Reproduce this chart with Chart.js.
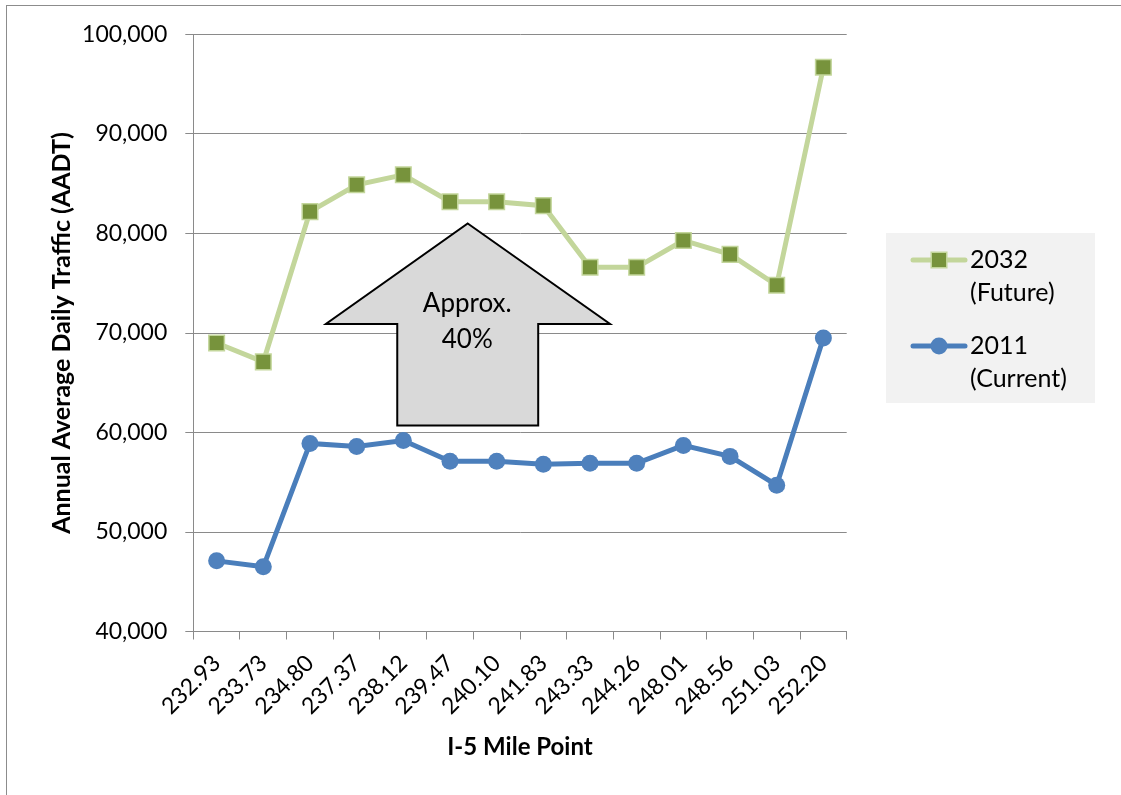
<!DOCTYPE html>
<html>
<head>
<meta charset="utf-8">
<title>I-5 Annual Average Daily Traffic</title>
<script src="https://cdn.jsdelivr.net/npm/chart.js@4.4.1/dist/chart.umd.min.js"></script>
<style>
  html, body { margin: 0; padding: 0; background: #ffffff; }
  #wrap { position: relative; width: 1121px; height: 795px; overflow: hidden; }
  #frame { position: absolute; left: 6px; top: 5px; right: -4px; bottom: -4px;
           border-left: 1.5px solid #8c8c8c; border-top: 1.5px solid #8c8c8c; }
  #c { position: absolute; left: 0; top: 0; }
</style>
</head>
<body>
<div id="wrap">
  <div id="frame"></div>
  <canvas id="c" width="1121" height="795"></canvas>
</div>
<script>
// Mile points along I-5 (x categories)
const milePoints = ['232.93', '233.73', '234.80', '237.37', '238.12', '239.47', '240.10',
                    '241.83', '243.33', '244.26', '248.01', '248.56', '251.03', '252.20'];

// Annual average daily traffic per mile point
const future2032 = [69000, 67100, 82200, 84900, 85900, 83200, 83200,
                    82800, 76600, 76600, 79300, 77900, 74800, 96700];
const current2011 = [47100, 46500, 58900, 58600, 59200, 57100, 57100,
                     56800, 56900, 56900, 58700, 57600, 54700, 69500];

// Value axis range and tick step
const yMin = 40000;
const yMax = 100000;
const yStep = 10000;

// Series labels (two lines each in the legend)
const seriesLabels = [['2032', '(Future)'], ['2011', '(Current)']];

// Callout arrow, in axis units (category index, traffic value)
const calloutText = ['Approx.', '40%'];
const calloutArrow = {
  tipX: 5.38, tipY: 81000,
  wingLeftX: 2.34, wingRightX: 8.43, wingY: 70900,
  shaftLeftX: 3.87, shaftRightX: 6.89, baseY: 60700,
  textX: 5.37, textY: [73000, 69300]
};

const FONT = 'Lato, "Open Sans", sans-serif';
const GRID = '#8a8a8a';

const greenStyle = {
  line: '#C3D69B', fill: '#77933C', pointStyle: 'rect', radius: 11, pointBorder: 1.5
};
const blueStyle = {
  line: '#4A7EBB', fill: '#4F81BD', pointStyle: 'circle', radius: 8.5, pointBorder: 0
};

const arrowPlugin = {
  id: 'calloutArrow',
  afterDatasetsDraw(chart) {
    const { ctx, scales: { x, y } } = chart;
    const a = calloutArrow;
    const px = v => x.getPixelForValue(v);
    const py = v => y.getPixelForValue(v);
    ctx.save();
    ctx.beginPath();
    ctx.moveTo(px(a.tipX), py(a.tipY));
    ctx.lineTo(px(a.wingRightX), py(a.wingY));
    ctx.lineTo(px(a.shaftRightX), py(a.wingY));
    ctx.lineTo(px(a.shaftRightX), py(a.baseY));
    ctx.lineTo(px(a.shaftLeftX), py(a.baseY));
    ctx.lineTo(px(a.shaftLeftX), py(a.wingY));
    ctx.lineTo(px(a.wingLeftX), py(a.wingY));
    ctx.closePath();
    ctx.fillStyle = '#D9D9D9';
    ctx.fill();
    ctx.lineWidth = 2;
    ctx.strokeStyle = '#000000';
    ctx.lineJoin = 'miter';
    ctx.stroke();
    ctx.fillStyle = '#000000';
    ctx.font = '26px ' + FONT;
    ctx.textAlign = 'center';
    ctx.textBaseline = 'middle';
    calloutText.forEach((t, i) => ctx.fillText(t, px(a.textX), py(a.textY[i])));
    ctx.restore();
  }
};

const legendPlugin = {
  id: 'sideLegend',
  afterDraw(chart) {
    const { ctx } = chart;
    const box = { x: 886, y: 233, w: 209, h: 170 };
    const rows = [260, 346];
    const styles = [greenStyle, blueStyle];
    ctx.save();
    ctx.fillStyle = '#F2F2F2';
    ctx.fillRect(box.x, box.y, box.w, box.h);
    styles.forEach((s, i) => {
      const cy = rows[i];
      ctx.beginPath();
      ctx.lineCap = 'round';
      ctx.lineWidth = 5;
      ctx.strokeStyle = s.line;
      ctx.moveTo(913, cy);
      ctx.lineTo(965, cy);
      ctx.stroke();
      ctx.fillStyle = s.fill;
      ctx.strokeStyle = s.pointStyle === 'rect' ? s.line : s.fill;
      ctx.lineWidth = s.pointBorder;
      Chart.helpers.drawPoint(ctx, {
        pointStyle: s.pointStyle, radius: s.radius, borderWidth: s.pointBorder, rotation: 0
      }, 939, cy);
      ctx.fillStyle = '#000000';
      ctx.font = '25px ' + FONT;
      ctx.textAlign = 'left';
      ctx.textBaseline = 'middle';
      ctx.fillText(seriesLabels[i][0], 970, cy);
      ctx.fillText(seriesLabels[i][1], 970, cy + 33);
    });
    ctx.restore();
  }
};

function makeChart() {
  new Chart(document.getElementById('c'), {
    type: 'line',
    data: {
      labels: milePoints,
      datasets: [
        {
          label: seriesLabels[0].join(' '),
          data: future2032,
          borderColor: greenStyle.line,
          borderWidth: 5,
          pointStyle: greenStyle.pointStyle,
          pointRadius: greenStyle.radius,
          pointBackgroundColor: greenStyle.fill,
          pointBorderColor: greenStyle.line,
          pointBorderWidth: greenStyle.pointBorder,
          tension: 0
        },
        {
          label: seriesLabels[1].join(' '),
          data: current2011,
          borderColor: blueStyle.line,
          borderWidth: 5,
          pointStyle: blueStyle.pointStyle,
          pointRadius: blueStyle.radius,
          pointBackgroundColor: blueStyle.fill,
          pointBorderColor: blueStyle.fill,
          pointBorderWidth: 0,
          tension: 0
        }
      ]
    },
    options: {
      responsive: false,
      animation: false,
      events: [],
      layout: { padding: { left: 0, top: 34.5, right: 274.3, bottom: 0 } },
      plugins: {
        legend: { display: false },
        tooltip: { enabled: false }
      },
      scales: {
        x: {
          type: 'category',
          offset: true,
          grid: { offset: true, drawOnChartArea: false, drawTicks: true, tickLength: 8, color: GRID, lineWidth: 1 },
          border: { color: GRID, width: 1 },
          ticks: {
            autoSkip: false, minRotation: 45, maxRotation: 45, padding: 10,
            color: '#000000', font: { family: FONT, size: 23 }
          },
          title: {
            display: true, text: 'I-5 Mile Point', color: '#000000',
            font: { family: FONT, size: 24, weight: 'bold', lineHeight: 1.2 },
            padding: { top: 0, bottom: 33 }
          },
          afterFit(scale) { scale.height = 163.5; }
        },
        y: {
          min: yMin, max: yMax,
          grid: { color: GRID, lineWidth: 1, tickLength: 8 },
          border: { color: GRID, width: 1 },
          ticks: {
            stepSize: yStep, padding: 18, color: '#000000',
            font: { family: FONT, size: 23 },
            callback: v => v.toLocaleString('en-US')
          },
          title: {
            display: true, text: 'Annual Average Daily Traffic (AADT)', color: '#000000',
            font: { family: FONT, size: 25, weight: 'bold', lineHeight: 1.2 },
            padding: { top: 47, bottom: 0 }
          },
          afterFit(scale) { scale.width = 193.3; }
        }
      }
    },
    plugins: [arrowPlugin, legendPlugin]
  });
}

if (document.fonts && document.fonts.load) {
  Promise.all([
    document.fonts.load('23px Lato'),
    document.fonts.load('bold 23px Lato')
  ]).then(makeChart, makeChart);
} else {
  makeChart();
}
</script>
</body>
</html>
